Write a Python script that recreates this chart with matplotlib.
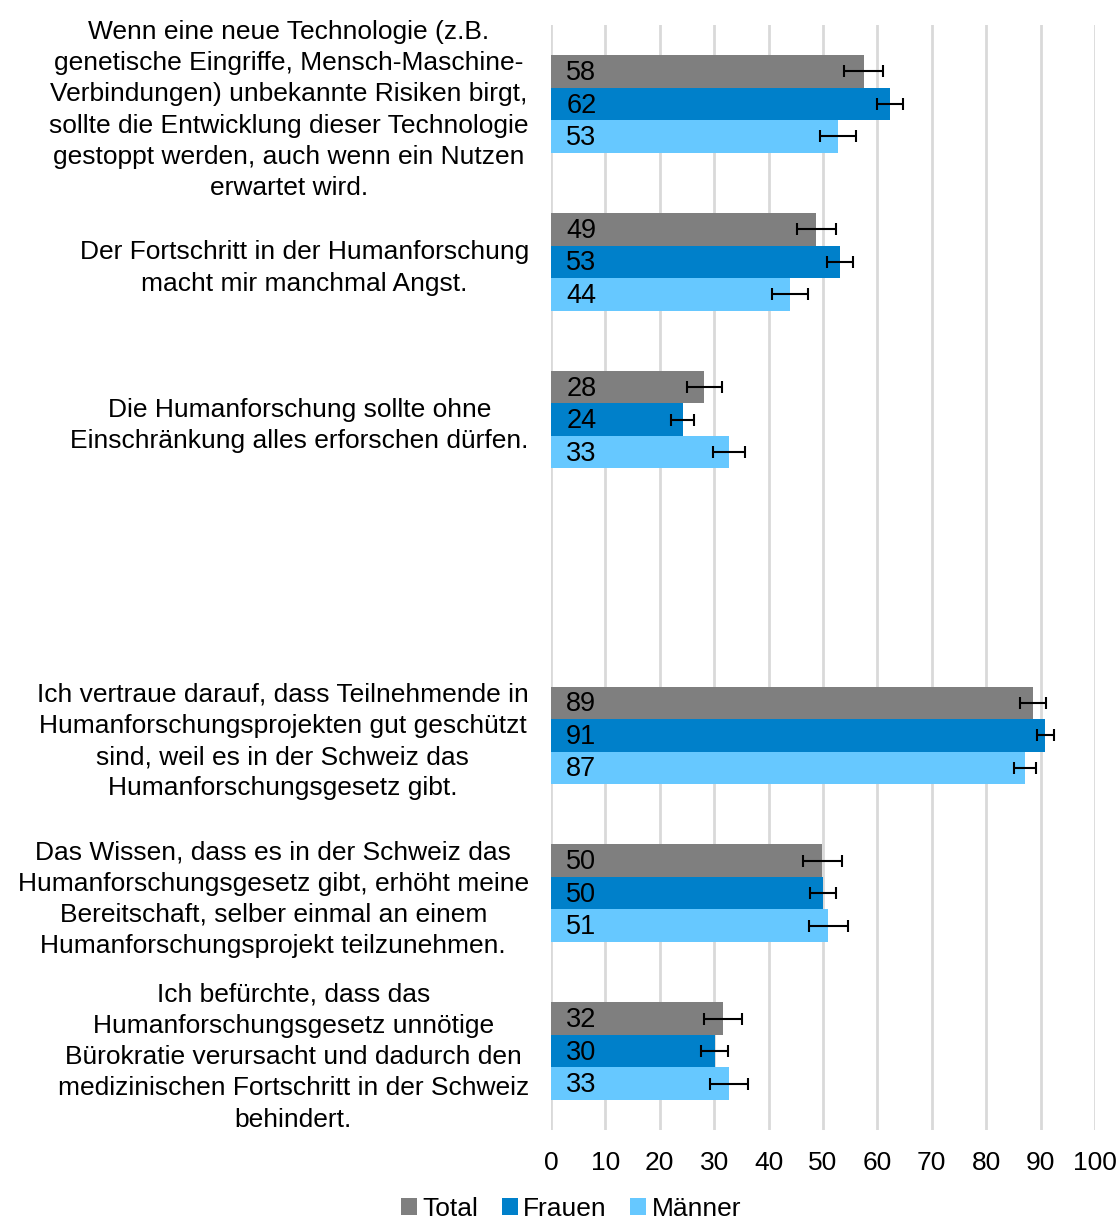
import matplotlib.pyplot as plt
import numpy as np

plt.rcParams['font.family'] = ['Liberation Sans', 'DejaVu Sans']

labels = [
    'Wenn eine neue Technologie (z.B.\ngenetische Eingriffe, Mensch-Maschine-\nVerbindungen) unbekannte Risiken birgt,\nsollte die Entwicklung dieser Technologie\ngestoppt werden, auch wenn ein Nutzen\nerwartet wird.',
    'Der Fortschritt in der Humanforschung\nmacht mir manchmal Angst.',
    'Die Humanforschung sollte ohne\nEinschränkung alles erforschen dürfen.',
    '',
    'Ich vertraue darauf, dass Teilnehmende in\nHumanforschungsprojekten gut geschützt\nsind, weil es in der Schweiz das\nHumanforschungsgesetz gibt.',
    'Das Wissen, dass es in der Schweiz das\nHumanforschungsgesetz gibt, erhöht meine\nBereitschaft, selber einmal an einem\nHumanforschungsprojekt teilzunehmen.',
    'Ich befürchte, dass das\nHumanforschungsgesetz unnötige\nBürokratie verursacht und dadurch den\nmedizinischen Fortschritt in der Schweiz\nbehindert.',
]
series = ['Total', 'Frauen', 'Männer']
colors = ['#7f7f7f', '#0080ca', '#66c8ff']

total = [57.5, 48.8, 28.2, np.nan, 88.6, 49.9, 31.7]
frauen = [62.3, 53.1, 24.2, np.nan, 90.9, 50.0, 30.1]
maenner = [52.7, 43.9, 32.8, np.nan, 87.1, 51.0, 32.7]
total_err = [3.6, 3.5, 3.25, np.nan, 2.4, 3.6, 3.5]
frauen_err = [2.45, 2.45, 2.15, np.nan, 1.65, 2.45, 2.5]
maenner_err = [3.3, 3.35, 2.95, np.nan, 2.0, 3.55, 3.5]

values = [total, frauen, maenner]
errors = [total_err, frauen_err, maenner_err]

fig = plt.figure(figsize=(11.2, 12.22), dpi=100)
ax = fig.add_axes([551 / 1120, 1 - 1130 / 1222, 544 / 1120, 1105 / 1222])

y = np.arange(len(labels))
h = 0.206
for i, (name, vals, errs, c) in enumerate(zip(series, values, errors, colors)):
    pos = y + (i - 1) * h
    ax.barh(pos, vals, height=h, color=c, label=name, zorder=2)
    ax.errorbar(vals, pos, xerr=errs, fmt='none', ecolor='black',
                elinewidth=1.5, capsize=4.5, capthick=1.5, zorder=3)
    for p, v in zip(pos, vals):
        if not np.isnan(v):
            ax.text(2.8, p + 0.01, f'{v:.0f}', va='center', ha='left', fontsize=19.5, zorder=4)

ax.set_xlim(0, 100)
ax.set_ylim(len(labels) - 0.5, -0.5)
ax.set_xticks(np.arange(0, 101, 10))
ax.set_yticks(y)
ax.set_yticklabels(labels, multialignment='center', linespacing=1.38)
ax.tick_params(axis='both', length=0, labelsize=19)
ax.tick_params(axis='y', pad=16)
ax.tick_params(axis='x', pad=15)
ax.grid(axis='x', color='#d9d9d9', linewidth=2, zorder=0)
for s in ax.spines.values():
    s.set_visible(False)

fig.legend(loc='center', bbox_to_anchor=(571 / 1120, 1 - 1209 / 1222), ncol=3,
           frameon=False, fontsize=19, handlelength=0.6, handleheight=0.6,
           handletextpad=0.2, columnspacing=0.9)

fig.savefig('out.png', dpi=100)
